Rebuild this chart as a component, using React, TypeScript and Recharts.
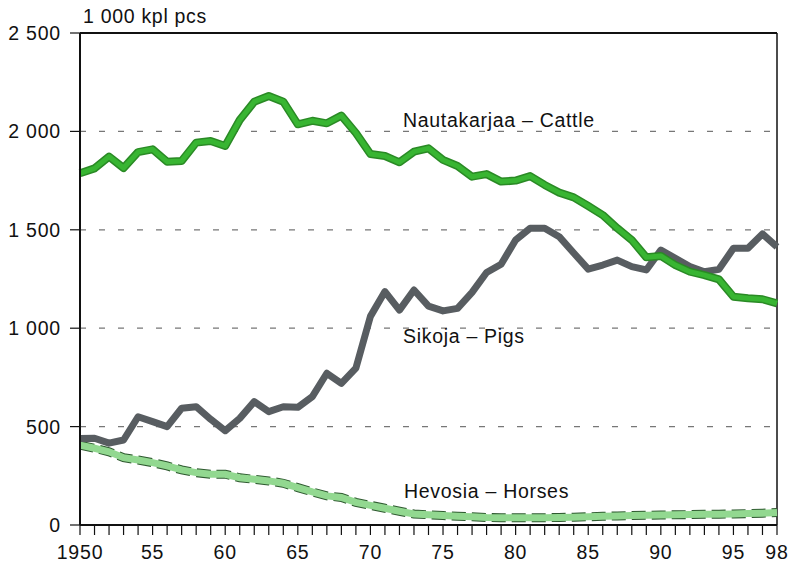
import React from 'react';
import { LineChart, Line, XAxis, YAxis, CartesianGrid, ReferenceLine } from 'recharts';

// Tuotantoeläimet 1950–1998, 1 000 kpl
const years = [
  1950, 1951, 1952, 1953, 1954, 1955, 1956, 1957, 1958, 1959,
  1960, 1961, 1962, 1963, 1964, 1965, 1966, 1967, 1968, 1969,
  1970, 1971, 1972, 1973, 1974, 1975, 1976, 1977, 1978, 1979,
  1980, 1981, 1982, 1983, 1984, 1985, 1986, 1987, 1988, 1989,
  1990, 1991, 1992, 1993, 1994, 1995, 1996, 1997, 1998,
];

const cattle = [
  1787, 1812, 1872, 1814, 1895, 1909, 1846, 1850, 1943, 1951,
  1926, 2058, 2151, 2180, 2151, 2036, 2054, 2041, 2080, 1992,
  1885, 1875, 1843, 1897, 1914, 1855, 1824, 1770, 1783, 1745,
  1750, 1773, 1728, 1689, 1665, 1621, 1575, 1508, 1448, 1360,
  1367, 1321, 1287, 1270, 1248, 1160, 1152, 1147, 1126,
];

const pigs = [
  440, 441, 416, 432, 550, 525, 500, 593, 601, 537,
  479, 542, 627, 576, 601, 598, 652, 771, 720, 797,
  1060, 1186, 1092, 1194, 1112, 1088, 1101, 1182, 1283, 1325,
  1448, 1508, 1508, 1465, 1382, 1300, 1321, 1346, 1313, 1296,
  1397, 1355, 1313, 1287, 1299, 1406, 1406, 1479, 1413,
];

const horses = [
  406, 390, 372, 342, 330, 317, 300, 280, 266, 258,
  258, 240, 232, 224, 212, 190, 168, 148, 140, 115,
  100, 85, 70, 56, 52, 48, 45, 42, 38, 37,
  37, 37, 37, 38, 40, 42, 44, 46, 48, 49,
  51, 52, 53, 54, 55, 56, 58, 60, 63,
];

const xLabels = [1950, 1955, 1960, 1965, 1970, 1975, 1980, 1985, 1990, 1995, 1998];
const yTicks = [0, 500, 1000, 1500, 2000, 2500];

const data = years.map((y, i) => ({ year: y, cattle: cattle[i], pigs: pigs[i], horses: horses[i] }));

const FONT = '"Liberation Sans", Arial, sans-serif';

const fmtY = (v: number) => (v >= 1000 ? `${Math.floor(v / 1000)} ${String(v % 1000).padStart(3, '0')}` : String(v));
const fmtX = (v: number) => (v === 1950 ? '1950' : String(v % 100));

const XTick = (props: any) => {
  const { x, y, payload } = props;
  if (!xLabels.includes(payload.value)) return null;
  return (
    <text x={x} y={y} dy={22} textAnchor="middle" fontSize={19.5} fontFamily={FONT} fill="#111" letterSpacing={0.8}>
      {fmtX(payload.value)}
    </text>
  );
};

const YTick = (props: any) => {
  const { x, y, payload } = props;
  return (
    <text x={x} y={y} dx={-7} dy={7} textAnchor="end" fontSize={19.5} fontFamily={FONT} fill="#111" letterSpacing={0.8}>
      {fmtY(payload.value)}
    </text>
  );
};

const label = (text: string, left: number, top: number) => (
  <div style={{ position: 'absolute', left, top, fontFamily: FONT, fontSize: 19.5, lineHeight: '19px', color: '#111', whiteSpace: 'nowrap', letterSpacing: 0.7 }}>
    {text}
  </div>
);

export default function App() {
  return (
    <div style={{ position: 'absolute', left: 0, top: 0, width: 789, height: 566, background: '#fff' }}>
      <LineChart width={789} height={566} data={data} margin={{ top: 33, right: 12, bottom: 0, left: 0 }}>
        <CartesianGrid vertical={false} stroke="#777" strokeWidth={1.3} strokeDasharray="6 13" />
        <XAxis
          dataKey="year"
          type="number"
          domain={[1950, 1998]}
          ticks={years}
          interval={0}
          tickSize={10}
          axisLine={{ stroke: '#111', strokeWidth: 2 }}
          tickLine={{ stroke: '#111', strokeWidth: 1.2 }}
          tick={<XTick />}
          height={41}
        />
        <YAxis
          type="number"
          domain={[0, 2500]}
          ticks={yTicks}
          interval={0}
          width={80}
          tickSize={10}
          axisLine={{ stroke: '#111', strokeWidth: 2 }}
          tickLine={{ stroke: '#111', strokeWidth: 1.2 }}
          tick={<YTick />}
        />
        <ReferenceLine y={2500} stroke="#111" strokeWidth={2} />
        <ReferenceLine x={1998} stroke="#111" strokeWidth={1.5} />
        <Line dataKey="horses" stroke="#2f5a30" strokeWidth={9} strokeDasharray="14 6" dot={false} isAnimationActive={false} />
        <Line dataKey="horses" stroke="#92d890" strokeWidth={7} dot={false} isAnimationActive={false} />
        <Line dataKey="pigs" stroke="#585d61" strokeWidth={7} dot={false} strokeLinejoin="round" isAnimationActive={false} />
        <Line dataKey="cattle" stroke="#2a8a25" strokeWidth={8} dot={false} strokeLinejoin="round" isAnimationActive={false} />
        <Line dataKey="cattle" stroke="#38b532" strokeWidth={5} dot={false} strokeLinejoin="round" isAnimationActive={false} />
      </LineChart>
      {label('1 000 kpl pcs', 83, 7)}
      {label('Nautakarjaa – Cattle', 403, 111)}
      {label('Sikoja – Pigs', 403, 327)}
      {label('Hevosia – Horses', 404, 482)}
    </div>
  );
}
